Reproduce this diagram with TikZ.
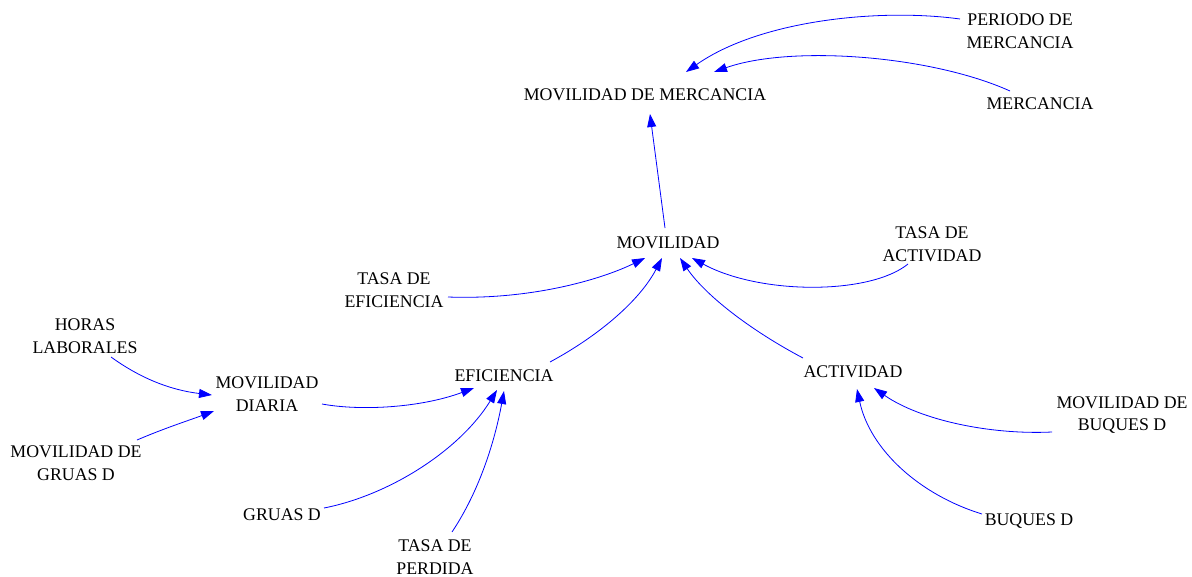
\documentclass[tikz,border=0pt]{standalone}
\usepackage{fontspec}
\setmainfont{Liberation Serif}
\usetikzlibrary{arrows.meta,calc}
\begin{document}
\begin{tikzpicture}[x=1pt,y=-1pt,
  lbl/.style={inner sep=0pt,align=center,font=\fontsize{17.8}{22.5}\selectfont,text=black},
  arr/.style={draw={rgb,255:red,0;green,0;blue,255},line width=0.8pt,-{Triangle[length=13pt,width=9pt]}}]
\useasboundingbox (0,0) rectangle (1192,576);
% nodes
\node[lbl] (mm)   at (645,95)  {MOVILIDAD DE MERCANCIA};
\node[lbl] (per)  at (1020,31) {PERIODO DE\\MERCANCIA};
\node[lbl] (mer)  at (1040,104) {MERCANCIA};
\node[lbl] (mov)  at (668,243) {MOVILIDAD};
\node[lbl] (tact) at (932,244) {TASA DE\\ACTIVIDAD};
\node[lbl] (tef)  at (394,290) {TASA DE\\EFICIENCIA};
\node[lbl] (hor)  at (85,336)  {HORAS\\LABORALES};
\node[lbl] (md)   at (267,394) {MOVILIDAD\\DIARIA};
\node[lbl] (ef)   at (504,376) {EFICIENCIA};
\node[lbl] (act)  at (853,372) {ACTIVIDAD};
\node[lbl] (mg)   at (76,463)  {MOVILIDAD DE\\GRUAS D};
\node[lbl] (gr)   at (282,515) {GRUAS D};
\node[lbl] (tp)   at (435,557) {TASA DE\\PERDIDA};
\node[lbl] (mb)   at (1122,415) {MOVILIDAD DE\\BUQUES D};
\node[lbl] (bq)   at (1029,521) {BUQUES D};
% connectors
\draw[arr] ($(per)+(-60,-12)$) .. controls (880,8) and (760,20) .. ($(mm)+(41,-23)$);
\draw[arr] ($(mer)+(-30,-13)$) .. controls (930,55) and (790,45) .. ($(mm)+(69,-23)$);
\draw[arr] ($(mov)+(-3,-15)$) -- ($(mm)+(5,19)$);
\draw[arr] ($(tef)+(54,7)$) .. controls (530,300) and (600,280) .. ($(mov)+(-23,15)$);
\draw[arr] ($(ef)+(46,-14)$) .. controls (600,335) and (640,300) .. ($(mov)+(-6,15)$);
\draw[arr] ($(act)+(-50,-14)$) .. controls (750,330) and (705,295) .. ($(mov)+(12,15)$);
\draw[arr] ($(tact)+(-24,20)$) .. controls (870,295) and (760,295) .. ($(mov)+(24,15)$);
\draw[arr] ($(hor)+(26,21)$) .. controls (140,378) and (170,390) .. ($(md)+(-55,1)$);
\draw[arr] ($(mg)+(61,-23)$) .. controls (165,428) and (190,420) .. ($(md)+(-53,17)$);
\draw[arr] ($(md)+(55,10)$) .. controls (360,411) and (420,408) .. ($(ef)+(-30,12)$);
\draw[arr] ($(gr)+(42,-7)$) .. controls (390,495) and (460,450) .. ($(ef)+(-7,14)$);
\draw[arr] ($(tp)+(17,-25)$) .. controls (480,490) and (495,440) .. ($(ef)+(0,15)$);
\draw[arr] ($(mb)+(-70,17)$) .. controls (990,435) and (920,420) .. ($(act)+(21,16)$);
\draw[arr] ($(bq)+(-47,-7)$) .. controls (920,495) and (870,450) .. ($(act)+(4,17)$);
\end{tikzpicture}
\end{document}
